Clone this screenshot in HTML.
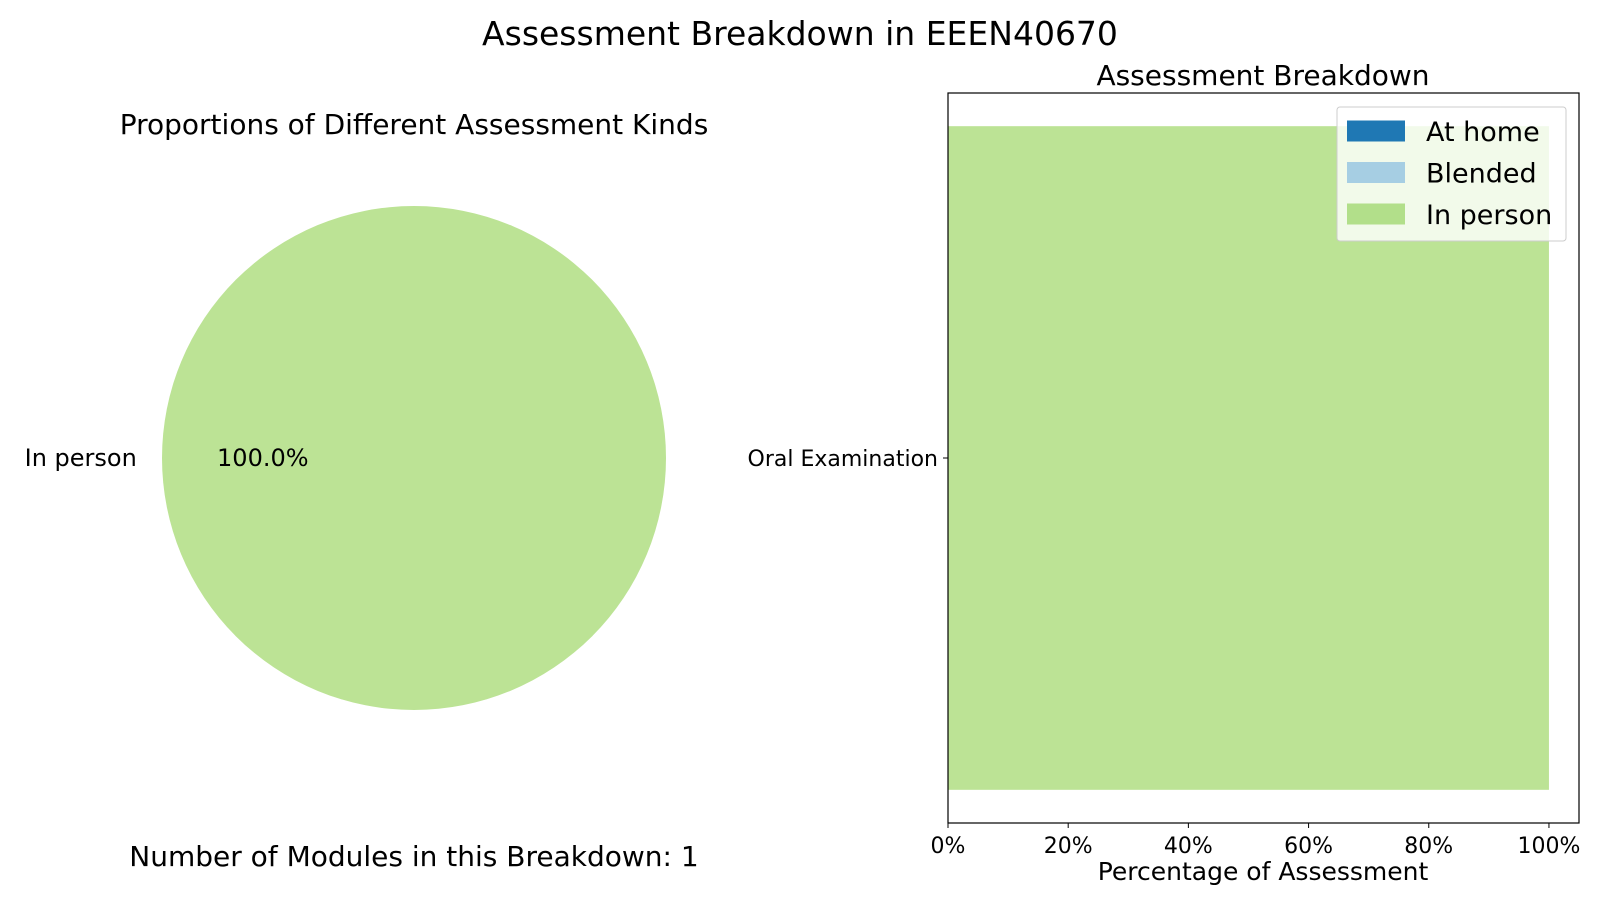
<!DOCTYPE html>
<html><head><meta charset="utf-8"><style>
body{margin:0;background:#fff;}
svg{display:block;font-family:"DejaVu Sans","Liberation Sans",sans-serif;}
</style></head><body>
<svg id="chart" width="1600" height="900" viewBox="0 0 1600 900" xmlns="http://www.w3.org/2000/svg">
<text x="800" y="45" font-size="33" text-anchor="middle">Assessment Breakdown in EEEN40670</text>
<text x="414" y="134" font-size="28" text-anchor="middle">Proportions of Different Assessment Kinds</text>
<g id="pie"></g>
<text x="414" y="866" font-size="28" text-anchor="middle">Number of Modules in this Breakdown: 1</text>
<text x="1263" y="85" font-size="28" text-anchor="middle">Assessment Breakdown</text>
<g id="bars"></g>
<text x="1263" y="880" font-size="25" text-anchor="middle">Percentage of Assessment</text>
</svg>
<script>
const pieLabels = ["In person"];
const pieValues = [100];
const pieColors = ["#bce395"];
const categories = ["Oral Examination"];
const atHome = [0];
const blended = [0];
const inPerson = [100];
const xTicks = [0, 20, 40, 60, 80, 100];
const legendLabels = ["At home", "Blended", "In person"];
const legendColors = ["#1f78b4", "#a6cee3", "#b2df8a"];

const NS = "http://www.w3.org/2000/svg";
function mk(tag, attrs, parent, text) {
  const e = document.createElementNS(NS, tag);
  for (const k in attrs) e.setAttribute(k, attrs[k]);
  if (text !== undefined) e.textContent = text;
  parent.appendChild(e);
  return e;
}
// Pie
const pie = document.getElementById("pie");
const cx = 414, cy = 458, r = 252;
const total = pieValues.reduce((a, b) => a + b, 0);
let ang = 0;
pieValues.forEach((v, i) => {
  const frac = v / total;
  let el;
  if (frac >= 0.9999) {
    el = mk("circle", {cx: cx, cy: cy, r: r, fill: pieColors[i]}, pie);
  } else {
    const a2 = ang + frac * 2 * Math.PI;
    const large = frac > 0.5 ? 1 : 0;
    el = mk("path", {d: `M${cx},${cy} L${cx + r * Math.cos(ang)},${cy - r * Math.sin(ang)} A${r},${r} 0 ${large} 0 ${cx + r * Math.cos(a2)},${cy - r * Math.sin(a2)} Z`, fill: pieColors[i]}, pie);
  }
  
  
  const mid = ang + frac * Math.PI;
  const lx = cx + 1.1 * r * Math.cos(mid), ly = cy - 1.1 * r * Math.sin(mid);
  const t = mk("text", {x: lx, y: ly + 8, "font-size": 24, "text-anchor": Math.cos(mid) < 0 ? "end" : "start"}, pie, pieLabels[i]);
  
  
  const px = cx + 0.6 * r * Math.cos(mid), py = cy - 0.6 * r * Math.sin(mid);
  const p = mk("text", {x: px, y: py + 8, "font-size": 24, "text-anchor": "middle"}, pie, (frac * 100).toFixed(1) + "%");
  
  
  ang += frac * 2 * Math.PI;
});
// Bars
const g = document.getElementById("bars");
const L = 948, R = 1579, T = 93, B = 823;
const xmax = 105;
const xs = v => L + (v / xmax) * (R - L);
const n = categories.length;
const band = (B - T) / (n - 1 + 0.8 * 1.1);
const barH = band * 0.8;
const yc = i => B - band * 0.44 - i * band;
categories.forEach((c, i) => {
  let x0 = 0;
  [[atHome, "#1f78b4"], [blended, "#a6cee3"], [inPerson, "#bce395"]].forEach(([arr, col], k) => {
    const v = arr[i];
    if (v > 0) {
      const rc = mk("rect", {x: xs(x0), y: yc(i) - barH / 2, width: xs(x0 + v) - xs(x0), height: barH, fill: col}, g);
      
      
    }
    x0 += v;
  });
  const tk = mk("line", {x1: L - 5, x2: L, y1: yc(i), y2: yc(i), stroke: "#000", "stroke-width": 1}, g);
  
  
  const lb = mk("text", {x: L - 10, y: yc(i) + 8, "font-size": 22, "text-anchor": "end"}, g, c);
  
  
});
const frame = mk("rect", {x: L, y: T, width: R - L, height: B - T, fill: "none", stroke: "#000", "stroke-width": 1.2}, g);


xTicks.forEach(v => {
  const tl = mk("line", {x1: xs(v), x2: xs(v), y1: B, y2: B + 5, stroke: "#000", "stroke-width": 1}, g);
  
  
  const tt = mk("text", {x: xs(v), y: B + 30, "font-size": 22, "text-anchor": "middle"}, g, v + "%");
  
  
});
// Legend
const lg = mk("g", {}, g);


mk("rect", {x: 1337, y: 107, width: 229, height: 134, rx: 3, fill: "#fff", "fill-opacity": 0.8, stroke: "#ccc", "stroke-width": 1}, lg);
legendLabels.forEach((t, i) => {
  const y = 131 + i * 41.5;
  const sw = mk("rect", {x: 1347, y: y - 10.5, width: 58, height: 21, fill: legendColors[i]}, lg);
  
  
  const lt = mk("text", {x: 1426, y: y + 10, "font-size": 27}, lg, t);
  
  
});
</script>
</body></html>
